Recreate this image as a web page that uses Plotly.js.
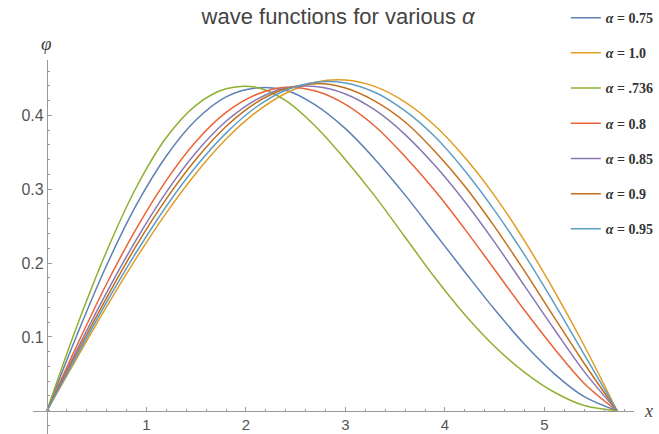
<!DOCTYPE html>
<html>
<head>
<meta charset="utf-8">
<script src="https://cdn.plot.ly/plotly-3.0.1.min.js"></script>
<style>html,body{margin:0;padding:0;background:#fff}#chart{width:659px;height:434px}</style>
</head>
<body>
<div id="chart"></div>
<script>
// x positions (shared by all curves)
const xs = [0, 0.3, 0.6, 0.9, 1.2, 1.5, 1.8, 2.1, 2.4, 2.7, 3.0, 3.3, 3.6, 3.9, 4.2, 4.5, 4.8, 5.1, 5.4, 5.73];

// wave function values, one array per alpha
const phi_075  = [0, 0.102, 0.197, 0.279, 0.345, 0.394, 0.425, 0.437, 0.434, 0.414, 0.382, 0.340, 0.292, 0.240, 0.188, 0.137, 0.090, 0.050, 0.019, 0];
const phi_100  = [0, 0.071, 0.141, 0.207, 0.268, 0.322, 0.368, 0.404, 0.430, 0.445, 0.448, 0.439, 0.418, 0.386, 0.343, 0.291, 0.230, 0.162, 0.088, 0];
const phi_0736 = [0, 0.114, 0.216, 0.303, 0.370, 0.414, 0.436, 0.438, 0.420, 0.385, 0.340, 0.290, 0.235, 0.180, 0.130, 0.087, 0.052, 0.025, 0.007, 0];
const phi_080  = [0, 0.088, 0.172, 0.247, 0.312, 0.365, 0.404, 0.428, 0.438, 0.433, 0.415, 0.385, 0.344, 0.298, 0.246, 0.191, 0.136, 0.084, 0.037, 0];
const phi_085  = [0, 0.082, 0.160, 0.232, 0.296, 0.350, 0.392, 0.421, 0.437, 0.439, 0.429, 0.407, 0.374, 0.332, 0.283, 0.228, 0.169, 0.110, 0.053, 0];
const phi_090  = [0, 0.078, 0.153, 0.224, 0.287, 0.341, 0.385, 0.417, 0.436, 0.443, 0.437, 0.419, 0.391, 0.351, 0.304, 0.249, 0.189, 0.126, 0.064, 0];
const phi_095  = [0, 0.074, 0.147, 0.215, 0.277, 0.331, 0.376, 0.411, 0.434, 0.445, 0.444, 0.431, 0.406, 0.371, 0.325, 0.271, 0.211, 0.145, 0.076, 0];

// legend labels (in legend order)
const labels = ['0.75', '1.0', '.736', '0.8', '0.85', '0.9', '0.95'];
const series = [phi_075, phi_100, phi_0736, phi_080, phi_085, phi_090, phi_095];
const colors = ['#5E81B5', '#E19C24', '#8FB032', '#EB6235', '#8778B3', '#C56E1A', '#5D9EC7'];

const xTicks = [1, 2, 3, 4, 5];
const yTicks = [0.1, 0.2, 0.3, 0.4];

const traces = series.map((ys, i) => ({
  type: 'scatter',
  mode: 'lines',
  x: xs,
  y: ys,
  name: '<i>α</i> = ' + labels[i],
  legendgroup: 'g' + i,
  line: {color: colors[i], width: 1.5, shape: 'spline', smoothing: 1},
  hoverinfo: 'skip'
}));

const axisColor = '#9a9a9a';
const layout = {
  width: 659,
  height: 434,
  margin: {l: 33, r: 25, t: 60, b: 0, pad: 0},
  paper_bgcolor: '#ffffff',
  plot_bgcolor: '#ffffff',
  showlegend: true,
  title: {
    text: 'wave functions for various <i>α</i>',
    font: {family: 'Liberation Sans, Arial, sans-serif', size: 22, color: '#444'},
    x: 0.513, xanchor: 'center', xref: 'container',
    y: 0.963, yanchor: 'middle', yref: 'container'
  },
  legend: {
    x: 0.8866, xanchor: 'left',
    y: 1.155, yanchor: 'top',
    maxheight: 420,
    bgcolor: 'rgba(0,0,0,0)',
    font: {family: 'Liberation Serif, Times New Roman, serif', size: 14, color: '#333', weight: 'bold'},
    tracegroupgap: 14,
    traceorder: 'grouped'
  },
  xaxis: {
    range: [-0.14, 5.9],
    anchor: 'free', position: 0.0622,
    showgrid: false, zeroline: false,
    showline: true, linecolor: axisColor, linewidth: 1,
    tickmode: 'array', tickvals: xTicks, ticktext: xTicks.map(String),
    ticks: 'inside', ticklen: 4, tickcolor: axisColor,
    minor: {dtick: 0.2, tick0: 0, ticks: 'inside', ticklen: 2, tickcolor: axisColor, showgrid: false},
    ticklabelstandoff: 0,
    tickfont: {family: 'Liberation Sans, Arial, sans-serif', size: 15, color: '#555'},
    fixedrange: true
  },
  yaxis: {
    range: [-0.0315, 0.475],
    anchor: 'free', position: 0.02318,
    showgrid: false, zeroline: false,
    showline: true, linecolor: axisColor, linewidth: 1,
    tickmode: 'array', tickvals: yTicks, ticktext: yTicks.map(String),
    ticks: 'inside', ticklen: 4, tickcolor: axisColor,
    minor: {dtick: 0.02, tick0: 0, ticks: 'inside', ticklen: 2, tickcolor: axisColor, showgrid: false},
    tickfont: {family: 'Liberation Sans, Arial, sans-serif', size: 16, color: '#555'},
    fixedrange: true
  },
  annotations: [
    {text: '<i>φ</i>', xref: 'x', yref: 'paper', x: 0, y: 1, xanchor: 'center', yanchor: 'bottom', yshift: 4,
     showarrow: false, font: {family: 'Liberation Serif, Times New Roman, serif', size: 19, color: '#444'}},
    {text: '<i>x</i>', xref: 'paper', yref: 'y', x: 1, y: 0, xanchor: 'left', yanchor: 'middle', xshift: 8,
     showarrow: false, font: {family: 'Liberation Serif, Times New Roman, serif', size: 18, color: '#444'}}
  ]
};

Plotly.newPlot('chart', traces, layout, {displayModeBar: false, staticPlot: true});
</script>
</body>
</html>
